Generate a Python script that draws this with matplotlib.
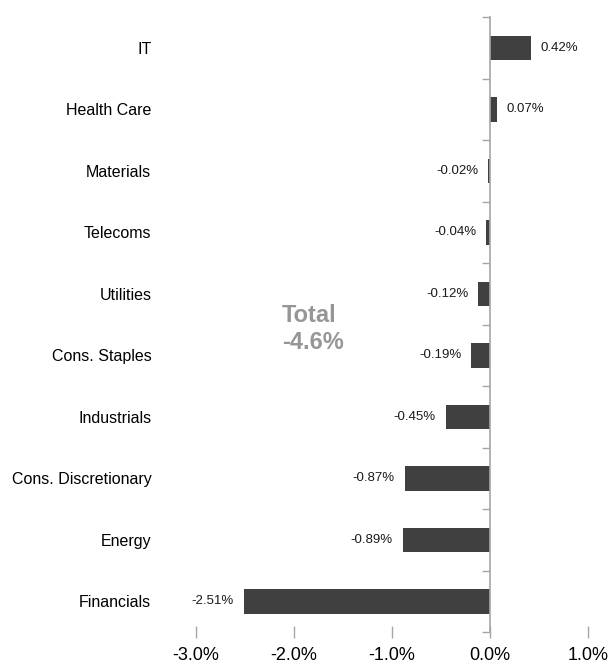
import matplotlib
matplotlib.use("Agg")
import matplotlib.pyplot as plt
from matplotlib.ticker import FixedLocator, FuncFormatter

# ── data (bottom to top) ─────────────────────────────────────────────
sectors = ["Financials", "Energy", "Cons. Discretionary", "Industrials",
           "Cons. Staples", "Utilities", "Telecoms", "Materials",
           "Health Care", "IT"]
contrib = [-2.51, -0.89, -0.87, -0.45, -0.19, -0.12, -0.04, -0.02, 0.07, 0.42]
x_ticks = [-3.0, -2.0, -1.0, 0.0, 1.0]
total_label = "Total\n-4.6%"

BAR_COLOR = "#404040"
AXIS_COLOR = "#a6a6a6"
plt.rcParams["font.family"] = ["Liberation Sans", "DejaVu Sans"]

fig = plt.figure(figsize=(6.08, 6.64), dpi=100)
ax = fig.add_axes([0.322, 0.048, 0.645, 0.926])

ypos = list(range(len(sectors)))
ax.barh(ypos, contrib, height=0.4, color=BAR_COLOR, zorder=2)

for y, v in zip(ypos, contrib):
    off = 0.1 if v >= 0 else -0.1
    ax.text(v + off, y, f"{v:.2f}%", va="center",
            ha="left" if v >= 0 else "right", fontsize=9.5, color="#1a1a1a")

ax.set_xlim(-3.0, 1.0)
ax.set_ylim(-0.5, len(sectors) - 0.5)
ax.xaxis.set_major_locator(FixedLocator(x_ticks))
ax.xaxis.set_major_formatter(FuncFormatter(lambda v, _: f"{v:.1f}%"))
ax.tick_params(axis="x", direction="inout", length=9, width=1,
               color=AXIS_COLOR, labelsize=13, pad=6)
ax.set_yticks(ypos)
ax.set_yticklabels(sectors, fontsize=11.5)
ax.tick_params(axis="y", length=0, pad=32)
for s in ("top", "right", "left", "bottom"):
    ax.spines[s].set_visible(False)

# vertical zero axis with ticks between categories
ax2 = ax.twinx()
ax2.set_ylim(ax.get_ylim())
ax2.spines["left"].set_position(("data", 0))
ax2.spines["left"].set_color(AXIS_COLOR)
ax2.spines["left"].set_linewidth(1.2)
for s in ("top", "right", "bottom"):
    ax2.spines[s].set_visible(False)
ax2.yaxis.set_ticks_position("left")
ax2.set_yticks([y - 0.5 for y in ypos] + [len(sectors) - 0.5])
ax2.set_yticklabels([])
ax2.tick_params(axis="y", direction="out", length=6, width=1, color=AXIS_COLOR)

ax.text(-2.12, 4.43, total_label, ha="left", va="center", fontsize=17,
        fontweight="bold", color="#969696", linespacing=1.2)

fig.savefig("out.png", dpi=100)
